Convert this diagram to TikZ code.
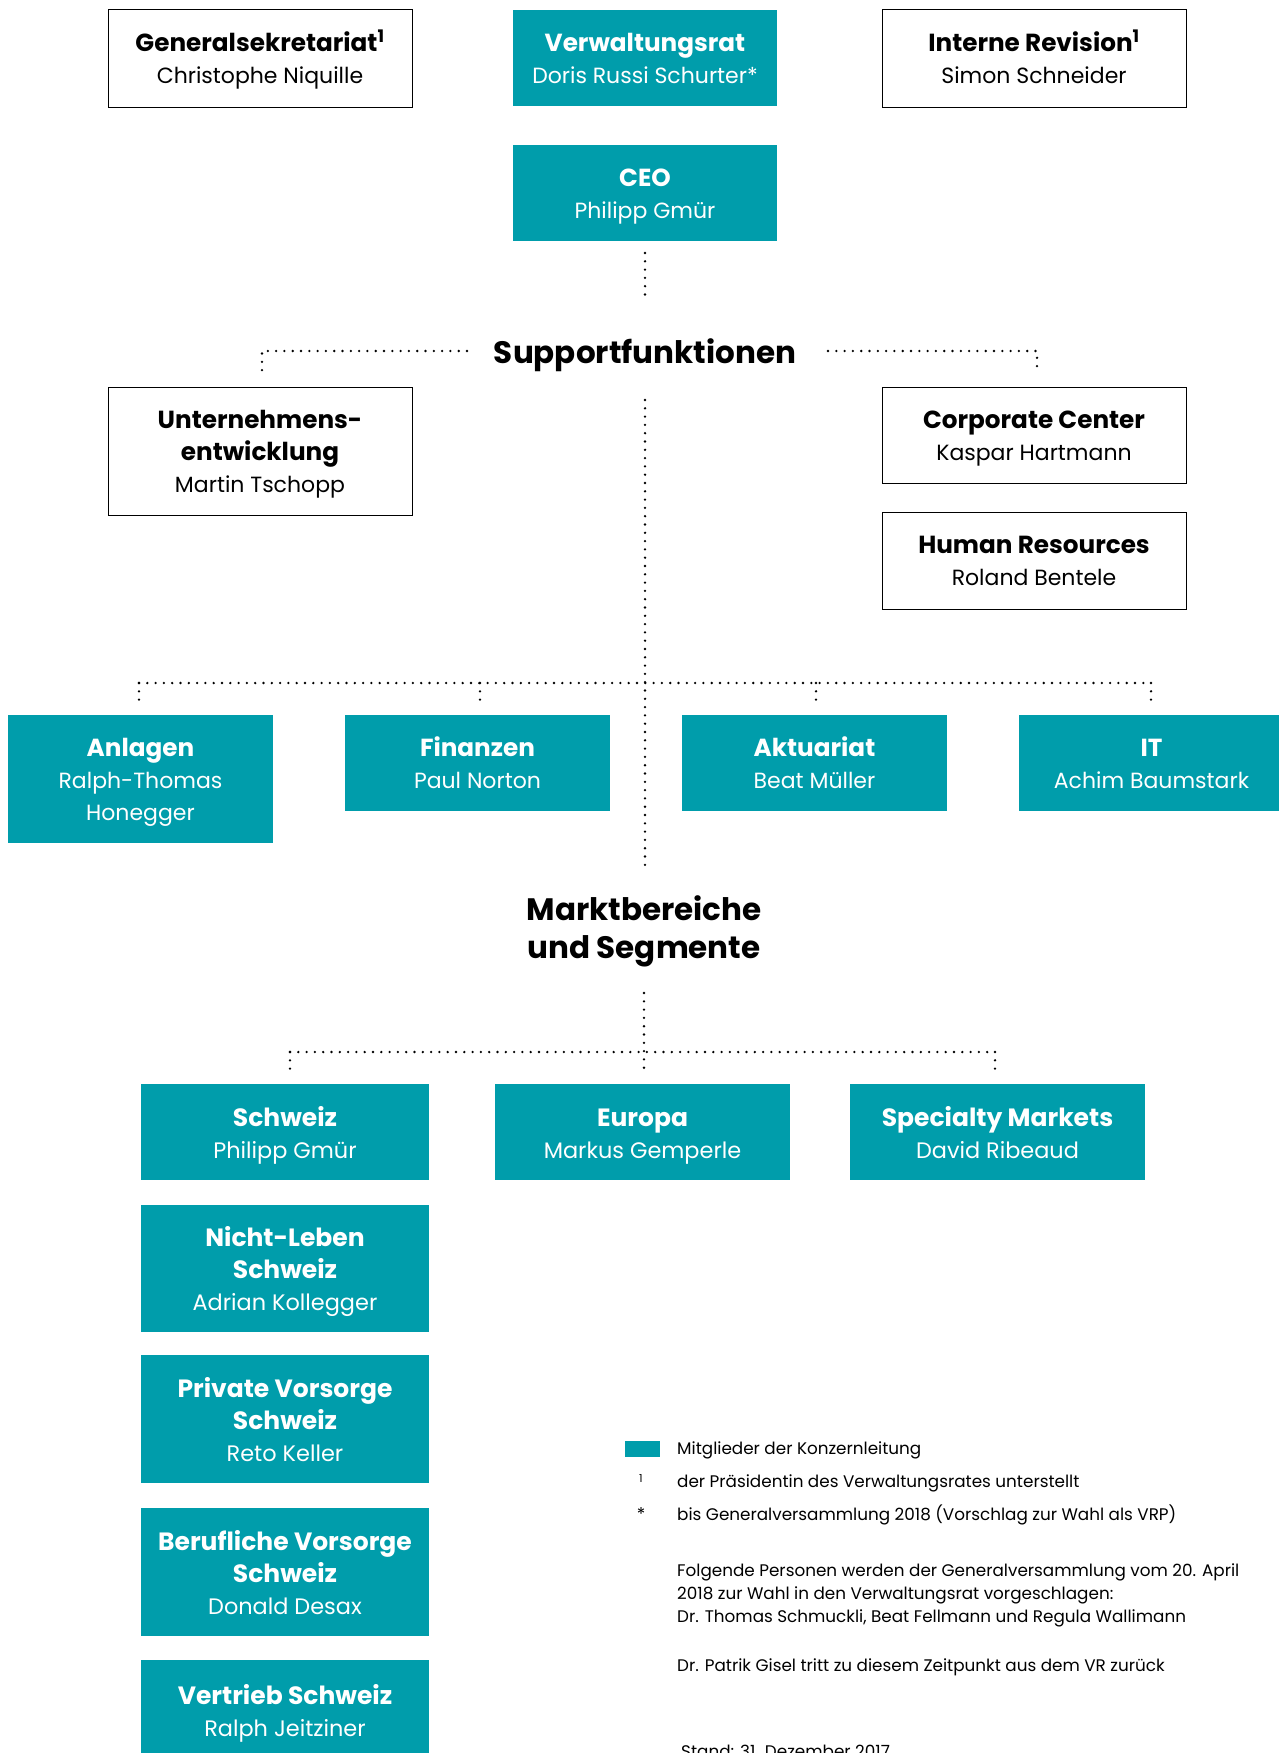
\documentclass[tikz,border=0pt]{standalone}
\usepackage{fontspec}
\setmainfont{Poppins}
\definecolor{teal}{HTML}{009DAB}
\tikzset{
  wbox/.style={draw=black, line width=1pt, fill=white, align=center, inner sep=0pt, text=black},
  tbox/.style={fill=teal, align=center, inner sep=0pt, text=white},
  upfont/.style={font=\fontsize{22}{32}\selectfont},
  lowfont/.style={font=\fontsize{22.4}{32}\selectfont},
  dotline/.style={line width=2.6pt, dash pattern=on 0pt off 8.3pt, line cap=round},
  headline/.style={font=\fontsize{31}{38}\selectfont\bfseries, align=center, inner sep=0pt},
  legtext/.style={font=\fontsize{16.8}{23}\selectfont, inner sep=0pt, anchor=west, align=left}
}
\newcommand{\tA}{\rule{0pt}{25.5pt}}
\newcommand{\tAl}{\rule{0pt}{27pt}}
\newcommand{\tB}{\rule[-7pt]{0pt}{7pt}}
\newcommand{\ttl}[1]{\tA{\fontsize{24.7}{32}\selectfont\bfseries #1}}
\newcommand{\ttlb}[1]{{\fontsize{24.7}{32}\selectfont\bfseries #1}}
\newcommand{\ltl}[1]{\tAl{\fontsize{25}{32}\selectfont\bfseries #1}}
\newcommand{\ltlb}[1]{{\fontsize{25}{32}\selectfont\bfseries #1}}
\newcommand{\nm}[1]{#1\tB}
\begin{document}
\begin{tikzpicture}[x=1pt,y=-1pt]
\useasboundingbox (0,0) rectangle (1279,1753);
\clip (0,0) rectangle (1279,1753);

% top row
\node[wbox, upfont, minimum width=304, minimum height=97] (gs) at (260,58.5)
  {\ttl{Generalsekretariat\textsuperscript{1}}\\\nm{Christophe Niquille}};
\node[tbox, upfont, minimum width=264, minimum height=96] (vr) at (645,58)
  {\ttl{Verwaltungsrat}\\\nm{Doris Russi Schurter*}};
\node[wbox, upfont, minimum width=304, minimum height=97] (ir) at (1034,58.5)
  {\ttl{Interne Revision\textsuperscript{1}}\\\nm{Simon Schneider}};
\node[tbox, upfont, minimum width=264, minimum height=96] (ceo) at (645,193)
  {\ttl{CEO}\\\nm{Philipp Gmür}};

% Supportfunktionen
\node[headline] (sf) at (645,355) {Supportfunktionen};
\node[wbox, upfont, minimum width=304, minimum height=128] (ue) at (260,451)
  {\ttl{Unternehmens-}\\\ttlb{entwicklung}\\\nm{Martin Tschopp}};
\node[wbox, upfont, minimum width=304, minimum height=96] (cc) at (1034,435)
  {\ttl{Corporate Center}\\\nm{Kaspar Hartmann}};
\node[wbox, upfont, minimum width=304, minimum height=97] (hr) at (1034,560.5)
  {\ttl{Human Resources}\\\nm{Roland Bentele}};

\node[tbox, upfont, minimum width=265, minimum height=128] (anl) at (140.5,779)
  {\ttl{Anlagen}\\Ralph-Thomas\\\nm{Honegger}};
\node[tbox, upfont, minimum width=265, minimum height=96] (fin) at (477.5,763)
  {\ttl{Finanzen}\\\nm{Paul Norton}};
\node[tbox, upfont, minimum width=265, minimum height=96] (akt) at (814.5,763)
  {\ttl{Aktuariat}\\\nm{Beat Müller}};
\node[tbox, upfont, minimum width=265, minimum height=96] (it) at (1151.5,763)
  {\ttl{IT}\\\nm{Achim Baumstark}};

% Marktbereiche
\node[headline] (mb) at (644,931) {Marktbereiche\\und Segmente};

\node[tbox, lowfont, minimum width=288, minimum height=96] (sch) at (285,1132)
  {\ltl{Schweiz}\\\nm{Philipp Gmür}};
\node[tbox, lowfont, minimum width=295, minimum height=96] (eur) at (642.5,1132)
  {\ltl{Europa}\\\nm{Markus Gemperle}};
\node[tbox, lowfont, minimum width=295, minimum height=96] (spm) at (997.5,1132)
  {\ltl{Specialty Markets}\\\nm{David Ribeaud}};
\node[tbox, lowfont, minimum width=288, minimum height=127] (nl) at (285,1268.5)
  {\ltl{Nicht-Leben}\\\ltlb{Schweiz}\\\nm{Adrian Kollegger}};
\node[tbox, lowfont, minimum width=288, minimum height=128] (pv) at (285,1419)
  {\ltl{Private Vorsorge}\\\ltlb{Schweiz}\\\nm{Reto Keller}};
\node[tbox, lowfont, minimum width=288, minimum height=128] (bv) at (285,1572)
  {\ltl{Berufliche Vorsorge}\\\ltlb{Schweiz}\\\nm{Donald Desax}};
\node[tbox, lowfont, minimum width=288, minimum height=100] (vs) at (285,1710)
  {\ltl{Vertrieb Schweiz}\\\nm{Ralph Jeitziner}};

% connectors: CEO to Supportfunktionen
\coordinate (a1) at (645,253);
\coordinate (a2) at (645,297);
\draw[dotline] (a1) -- (a2);
\coordinate (sl1) at (467,351);
\coordinate (sl2) at (262,351);
\coordinate (sl3) at (262,372);
\draw[dotline] (sl1) -- (sl2) -- (sl3);
\coordinate (sr1) at (828,351);
\coordinate (sr2) at (1037,351);
\coordinate (sr3) at (1037,372);
\draw[dotline] (sr1) -- (sr2) -- (sr3);

% central line
\coordinate (b1) at (645,400);
\coordinate (b2) at (645,866);
\draw[dotline] (b1) -- (b2);
\coordinate (h1) at (139,683);
\coordinate (h2) at (1151,683);
\draw[dotline] (h1) -- (h2);
\coordinate (d1) at (139,700);
\coordinate (d2a) at (480,683);
\coordinate (d2) at (480,702);
\coordinate (d3a) at (816,683);
\coordinate (d3) at (816,702);
\coordinate (d5) at (1151,700);
\draw[dotline] (h1) -- (d1);
\draw[dotline] (d2a) -- (d2);
\draw[dotline] (d3a) -- (d3);
\draw[dotline] (h2) -- (d5);

% Markt connectors
\coordinate (m1) at (644,993);
\coordinate (m2) at (644,1070);
\draw[dotline] (m1) -- (m2);
\coordinate (mh1) at (290,1052);
\coordinate (mh2) at (995,1052);
\draw[dotline] (mh1) -- (mh2);
\coordinate (md1) at (290,1070);
\coordinate (md3) at (995,1070);
\draw[dotline] (mh1) -- (md1);
\draw[dotline] (mh2) -- (md3);

% legend
\node[fill=teal, minimum width=35, minimum height=16, inner sep=0pt] (sw) at (642.5,1449) {};
\node[legtext] (l1) at (677,1450) {Mitglieder der Konzernleitung};
\node[font=\fontsize{11}{12}\selectfont, inner sep=0pt] (s1) at (641,1479) {1};
\node[legtext] (l2) at (677,1483) {der Präsidentin des Verwaltungsrates unterstellt};
\node[font=\fontsize{17.5}{20}\selectfont, inner sep=0pt] (s2) at (641,1514) {*};
\node[legtext] (l3) at (677,1515) {bis Generalversammlung 2018 (Vorschlag zur Wahl als VRP)};
\node[legtext] (l4) at (677,1595) {Folgende Personen werden der Generalversammlung vom 20. April\\2018 zur Wahl in den Verwaltungsrat vorgeschlagen:\\Dr. Thomas Schmuckli, Beat Fellmann und Regula Wallimann};
\node[legtext] (l5) at (677,1667) {Dr. Patrik Gisel tritt zu diesem Zeitpunkt aus dem VR zurück};
\node[font=\fontsize{16.8}{20}\selectfont, inner sep=0pt, anchor=base west] (st) at (681,1757) {Stand: 31. Dezember 2017};
\end{tikzpicture}
\end{document}
